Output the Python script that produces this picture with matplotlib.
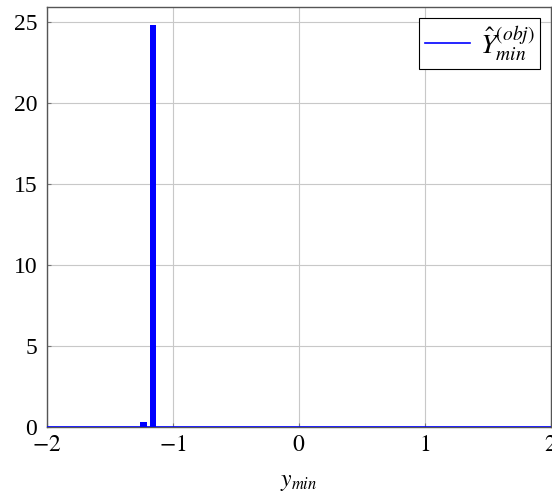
import matplotlib.pyplot as plt

plt.rcParams['font.family'] = ['Liberation Serif', 'DejaVu Serif']
plt.rcParams['mathtext.fontset'] = 'stix'

# histogram bins (centres) and heights
bin_centers = [-1.234, -1.156]
heights = [0.3, 24.8]
bar_w = 0.05
# baseline of the empty bins
base_x = [-2, 2]
base_y = [0, 0]

fig = plt.figure(figsize=(5.52, 4.95), dpi=100)
ax = fig.add_axes([0.0851, 0.1374, 0.9129, 0.8485])

ax.bar(bin_centers, heights, width=bar_w, color='blue', zorder=3)
ax.plot(base_x, base_y, color='blue', lw=1.2, zorder=3, label=r'$\hat{Y}_{min}^{(obj)}$')

ax.set_xlim(-2, 2)
ax.set_ylim(0, 25.9)
ax.set_xticks([-2, -1, 0, 1, 2])
ax.set_xticklabels(['$-2$', '$-1$', '$0$', '$1$', '$2$'])
ax.set_yticks([0, 5, 10, 15, 20, 25])
ax.grid(True, color='#c8c8c8', lw=0.8)
ax.tick_params(direction='in', labelsize=17, length=3, color='#777777')
ax.tick_params(axis='x', pad=6)
ax.tick_params(axis='y', pad=7)
for s in ax.spines.values():
    s.set_color('#555555')
    s.set_linewidth(1.0)

ax.set_xlabel('$y_{min}$', fontsize=17, labelpad=11)

leg = ax.legend(loc='upper right', fontsize=20, fancybox=False, framealpha=1,
                edgecolor='black', handlelength=1.6, borderaxespad=0.38,
                borderpad=0.22, handletextpad=0.35)
leg.get_frame().set_linewidth(0.8)

plt.savefig('out.png', dpi=100)
